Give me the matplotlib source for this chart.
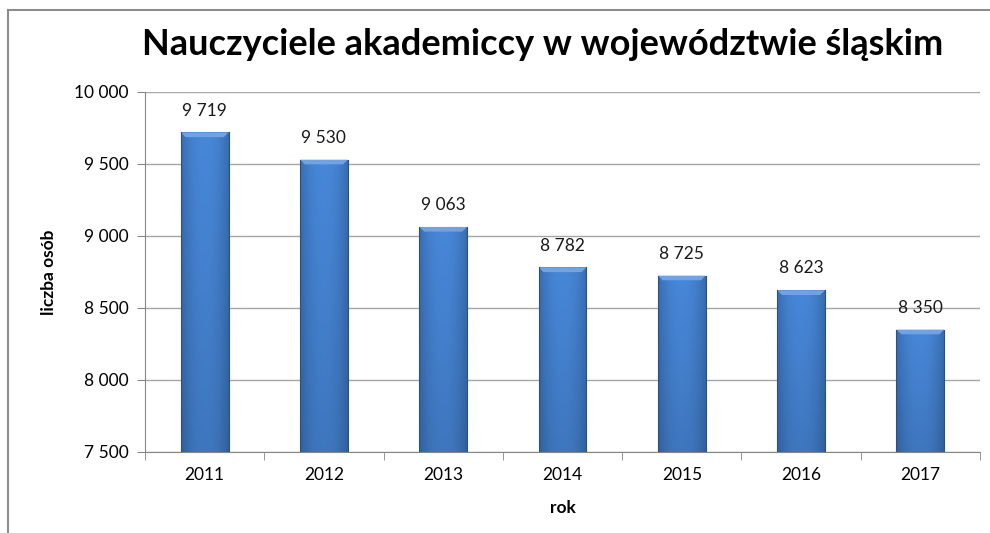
import matplotlib.pyplot as plt
import numpy as np
from matplotlib.lines import Line2D

years = ['2011', '2012', '2013', '2014', '2015', '2016', '2017']
values = [9719, 9530, 9063, 8782, 8725, 8623, 8350]
yticks = [7500, 8000, 8500, 9000, 9500, 10000]

plt.rcParams['font.family'] = ['Lato', 'DejaVu Sans']


def fmt(v):
    return '{:,}'.format(v).replace(',', ' ')


fig = plt.figure(figsize=(9.9, 5.33), dpi=100)
ax = fig.add_axes([145 / 990, 81 / 533, 835 / 990, 360 / 533])

x = np.arange(len(years))
bars = ax.bar(x, values, width=0.4, bottom=0, color='#3c78c4', zorder=2)
ax.set_ylim(7500, 10000)
ax.set_xlim(-0.5, len(years) - 0.5)

# gradient fill for the bars (dark edges, light middle)
u = np.linspace(-1, 1, 60)
shade = 1 - 0.55 * np.abs(u) ** 2.2
c_dark = np.array([0.17, 0.34, 0.56])
c_light = np.array([0.28, 0.53, 0.85])
img = c_dark + (c_light - c_dark) * shade[:, None]
img = np.tile(img[None, :, :], (40, 1, 1))
vert = np.linspace(0.88, 1.0, 40)[:, None, None]
img = img * vert
for b in bars:
    x0, w, h = b.get_x(), b.get_width(), b.get_height()
    im = ax.imshow(img, extent=[x0, x0 + w, 7500, h], aspect='auto',
                   origin='lower', zorder=3, interpolation='bilinear')
    im.set_clip_path(b)
    # light bevel on top
    bev = (ax.get_ylim()[1] - ax.get_ylim()[0]) * 0.013
    ax.fill([x0, x0 + w, x0 + w - w * 0.1, x0 + w * 0.1],
            [h, h, h - bev, h - bev], color='#6fa3e6', zorder=4, lw=0)
    ax.plot([x0, x0], [7500, h], color='#2a527f', lw=0.8, zorder=4)
    ax.plot([x0 + w, x0 + w], [7500, h], color='#2a527f', lw=0.8, zorder=4)

for xi, v in zip(x, values):
    ax.annotate(fmt(v), (xi, v), xytext=(0, 10), textcoords='offset points',
                ha='center', va='bottom', fontsize=12.5, color='#1a1a1a')

ax.set_yticks(yticks)
ax.set_yticklabels([fmt(t) for t in yticks], fontsize=12.5)
ax.set_xticks(x)
ax.set_xticklabels(years, fontsize=12.5)
ax.set_xticks(np.arange(len(years) + 1) - 0.5, minor=True)
ax.tick_params(axis='x', which='major', length=0, pad=11)
ax.tick_params(axis='x', which='minor', length=6, color='#868686')
ax.tick_params(axis='y', length=6, color='#868686', pad=6)
ax.grid(axis='y', color='#a6a6a6', lw=1, zorder=0)
ax.set_axisbelow(True)
for s in ['top', 'right']:
    ax.spines[s].set_visible(False)
for s in ['left', 'bottom']:
    ax.spines[s].set_color('#868686')

ax.set_xlabel('rok', fontsize=12.5, fontweight='bold', labelpad=12)
ax.set_ylabel('liczba osób', fontsize=12.5, fontweight='bold', labelpad=12)
fig.text(543 / 990, 1 - 45 / 533, 'Nauczyciele akademiccy w województwie śląskim',
         ha='center', va='center', fontsize=26, fontweight='bold')

# chart frame
fig.add_artist(Line2D([8 / 990, 8 / 990], [0, 1 - 10 / 533], color='#8c8c8c', lw=1.5))
fig.add_artist(Line2D([8 / 990, 1], [1 - 10 / 533, 1 - 10 / 533], color='#8c8c8c', lw=1.5))

fig.savefig('out.png', dpi=100)
